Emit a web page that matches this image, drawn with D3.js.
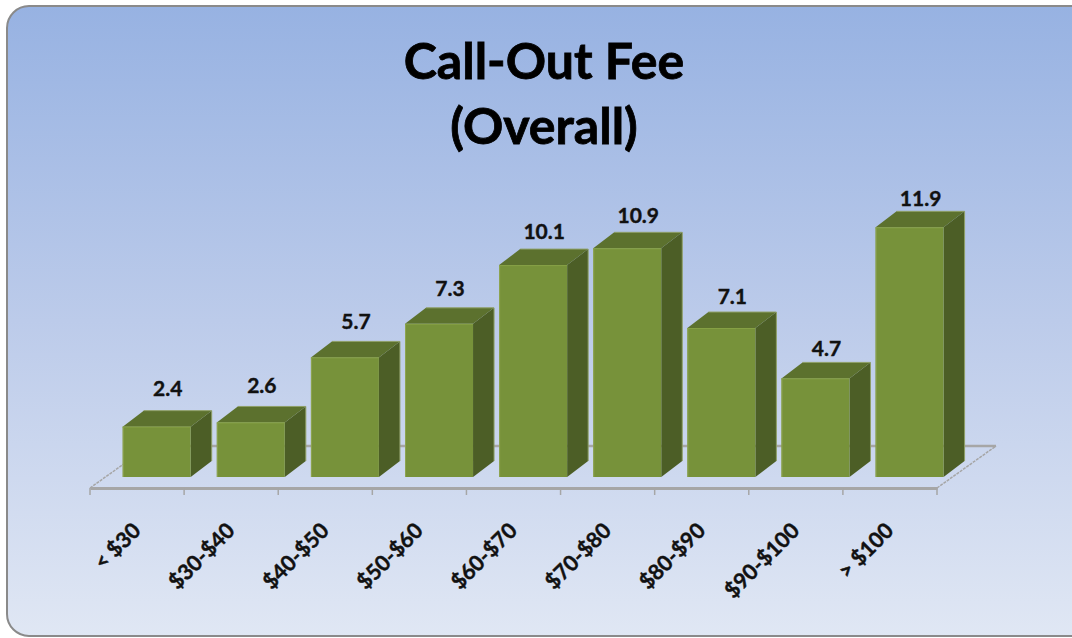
<!DOCTYPE html>
<html><head><meta charset="utf-8">
<script src="https://cdn.jsdelivr.net/npm/d3@7"></script>
<style>html,body{margin:0;padding:0;background:#fff;overflow:hidden}</style>
</head><body>
<svg id="chart" width="1072" height="638"></svg>
<script>
const categories = ["< $30","$30-$40","$40-$50","$50-$60","$60-$70","$70-$80","$80-$90","$90-$100","> $100"];
const values = [2.4,2.6,5.7,7.3,10.1,10.9,7.1,4.7,11.9];
const titleLines = ["Call-Out Fee","(Overall)"];

const svg = d3.select("#chart");
const FONT = "Lato, 'Open Sans', sans-serif";

// background frame with gradient
const defs = svg.append("defs");
const grad = defs.append("linearGradient").attr("id","bg").attr("x1",0).attr("y1",0).attr("x2",0).attr("y2",1);
grad.append("stop").attr("offset","0%").attr("stop-color","#97b2e2");
grad.append("stop").attr("offset","50%").attr("stop-color","#bccbea");
grad.append("stop").attr("offset","100%").attr("stop-color","#e0e7f4");
svg.append("rect").attr("x",7).attr("y",6).attr("width",1100).attr("height",630)
  .attr("rx",22).attr("ry",22).attr("fill","url(#bg)").attr("stroke","#8a8a8a").attr("stroke-width",2);

// title
svg.append("text").attr("x",544).attr("y",0).attr("text-anchor","middle")
  .attr("font-family",FONT).attr("font-weight",700).attr("font-size",50).attr("fill","#000")
  .attr("stroke","#000").attr("stroke-width",0.8)
  .selectAll("tspan").data(titleLines).join("tspan")
  .attr("x",544).attr("y",(d,i)=>79 + i*65).text(d=>d);

// scales
const axisLeft = 90, axisRight = 937, axisY = 488;
const x = d3.scaleBand().domain(categories).range([axisLeft, axisRight]).padding(0);
const y = d3.scaleLinear().domain([0,14]).range([477, 477 - 14*20.98]);
const barW = 68, dX = 21, dY = -16, shift = 32.7;
const floorDX = 59, floorDY = -42;

// floor
const floor = svg.append("g").attr("stroke","#a6a6a6").attr("fill","none");
floor.append("line").attr("x1",axisLeft+floorDX).attr("y1",axisY+floorDY).attr("x2",axisRight+floorDX).attr("y2",axisY+floorDY).attr("stroke-width",2.5);
floor.append("line").attr("x1",axisLeft).attr("y1",axisY).attr("x2",axisLeft+floorDX).attr("y2",axisY+floorDY).attr("stroke-width",1.5).attr("stroke-dasharray","3,1");
floor.append("line").attr("x1",axisRight).attr("y1",axisY).attr("x2",axisRight+floorDX).attr("y2",axisY+floorDY).attr("stroke-width",1.5).attr("stroke-dasharray","3,1");

// bars
const bars = svg.append("g").selectAll("g").data(values).join("g");
bars.each(function(v,i){
  const g = d3.select(this);
  const x0 = x(categories[i]) + shift, x1 = x0 + barW;
  const yt = y(v), yb = y(0);
  g.append("path").attr("d",`M${x1},${yb}L${x1+dX},${yb+dY}L${x1+dX},${yt+dY}L${x1},${yt}Z`).attr("fill","#4c5e26");
  g.append("path").attr("d",`M${x0},${yt}L${x0+dX},${yt+dY}L${x1+dX},${yt+dY}L${x1},${yt}Z`).attr("fill","#5c712e");
  g.append("rect").attr("x",x0).attr("y",yt).attr("width",barW).attr("height",yb-yt).attr("fill","#77923a");
  g.append("path").attr("d",`M${x0+dX},${yt+dY}L${x1+dX},${yt+dY}L${x1+dX},${yb+dY}`).attr("fill","none").attr("stroke","#8e9f66").attr("stroke-width",1);
  g.append("line").attr("x1",x0+0.5).attr("y1",yt).attr("x2",x0+0.5).attr("y2",yb).attr("stroke","#8ea552").attr("stroke-width",1);
  g.append("line").attr("x1",x0).attr("y1",yt+0.5).attr("x2",x1).attr("y2",yt+0.5).attr("stroke","#86a045").attr("stroke-width",1);
});

// value labels
svg.append("g").selectAll("text").data(values).join("text")
  .attr("x",(v,i)=>x(categories[i]) + shift + barW/2 + 11)
  .attr("y",(v,i)=>y(v) - (31 - 1.2*i))
  .attr("text-anchor","middle").attr("font-family",FONT).attr("font-weight",700)
  .attr("font-size",21).attr("fill","#111").attr("stroke","#111").attr("stroke-width",0.4)
  .text(v=>d3.format(".1f")(v));

// front axis
const axis = d3.axisBottom(x).tickSize(7).tickFormat("").tickSizeOuter(0);
const ag = svg.append("g").attr("transform",`translate(0,${axisY})`).call(axis);
ag.select(".domain").attr("stroke","#a6a6a6").attr("stroke-width",3);
ag.selectAll(".tick").remove();
const edges = categories.map(c=>x(c)).concat([axisRight]);
ag.selectAll("line.tk").data(edges).join("line").attr("class","tk")
  .attr("x1",d=>d).attr("x2",d=>d).attr("y1",0).attr("y2",7).attr("stroke","#a6a6a6").attr("stroke-width",1.5);

// category labels
svg.append("g").selectAll("text").data(categories).join("text")
  .attr("transform",d=>`translate(${x(d)+x.bandwidth()/2+5},532) rotate(-45)`)
  .attr("text-anchor","end").attr("font-family",FONT).attr("font-weight",700)
  .attr("font-size",21.5).attr("fill","#111").attr("stroke","#111").attr("stroke-width",0.4)
  .text(d=>d);
</script>
</body></html>
